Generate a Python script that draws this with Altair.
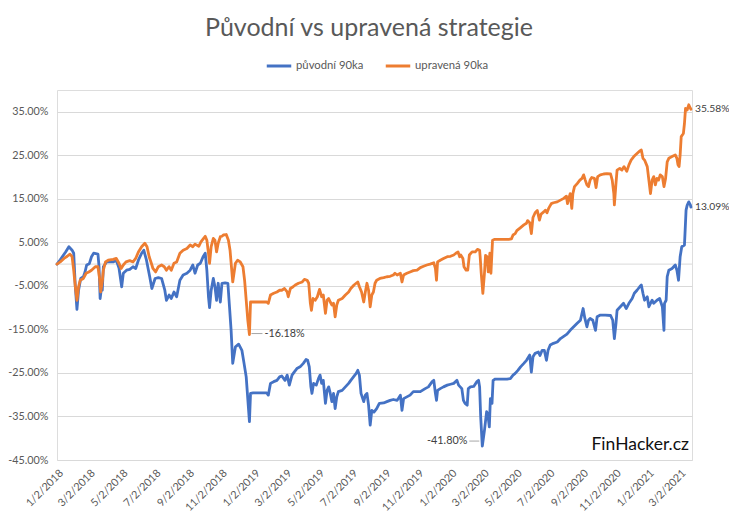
import altair as alt
import pandas as pd

TITLE = "Původní vs upravená strategie"
SERIES_NAMES = ["původní 90ka", "upravená 90ka"]
SERIES_COLORS = ["#4472C4", "#ED7D31"]
WATERMARK = "FinHacker.cz"

puvodni_dates = [
    "2018-01-02", "2018-01-08", "2018-01-18", "2018-01-24", "2018-01-30", "2018-02-02", "2018-02-05",
    "2018-02-08", "2018-02-11", "2018-02-15", "2018-02-20", "2018-02-23", "2018-02-26", "2018-03-03",
    "2018-03-07", "2018-03-11", "2018-03-19", "2018-03-21", "2018-03-23", "2018-03-26", "2018-03-27",
    "2018-03-29", "2018-04-04", "2018-04-16", "2018-04-22", "2018-04-27", "2018-05-02", "2018-05-05",
    "2018-05-11", "2018-05-17", "2018-05-23", "2018-05-28", "2018-06-02", "2018-06-08", "2018-06-12",
    "2018-06-17", "2018-06-23", "2018-06-27", "2018-07-03", "2018-07-09", "2018-07-15", "2018-07-21",
    "2018-07-24", "2018-07-29", "2018-08-02", "2018-08-07", "2018-08-12", "2018-08-18", "2018-08-24",
    "2018-08-31", "2018-09-06", "2018-09-11", "2018-09-15", "2018-09-20", "2018-09-25", "2018-09-30",
    "2018-10-04", "2018-10-07", "2018-10-10", "2018-10-12", "2018-10-15", "2018-10-19", "2018-10-22",
    "2018-10-25", "2018-10-28", "2018-11-01", "2018-11-04", "2018-11-10", "2018-11-15", "2018-11-18",
    "2018-11-21", "2018-11-24", "2018-11-29", "2018-12-05", "2018-12-11", "2018-12-15", "2018-12-19",
    "2018-12-23", "2018-12-25", "2018-12-27", "2019-01-01", "2019-01-20", "2019-01-26", "2019-01-29",
    "2019-02-02", "2019-02-08", "2019-02-14", "2019-02-19", "2019-02-23", "2019-03-01", "2019-03-05",
    "2019-03-09", "2019-03-14", "2019-03-18", "2019-03-23", "2019-03-29", "2019-04-04", "2019-04-09",
    "2019-04-12", "2019-04-15", "2019-04-18", "2019-04-20", "2019-04-23", "2019-04-28", "2019-05-02",
    "2019-05-05", "2019-05-08", "2019-05-11", "2019-05-15", "2019-05-18", "2019-05-21", "2019-05-24",
    "2019-05-27", "2019-05-30", "2019-06-02", "2019-06-05", "2019-06-08", "2019-06-15", "2019-06-21",
    "2019-06-27", "2019-07-01", "2019-07-06", "2019-07-11", "2019-07-14", "2019-07-17", "2019-07-20",
    "2019-07-25", "2019-07-28", "2019-07-31", "2019-08-03", "2019-08-06", "2019-08-09", "2019-08-13",
    "2019-08-18", "2019-08-23", "2019-08-31", "2019-09-06", "2019-09-12", "2019-09-18", "2019-09-25",
    "2019-10-01", "2019-10-04", "2019-10-07", "2019-10-13", "2019-10-19", "2019-10-25", "2019-11-01",
    "2019-11-07", "2019-11-16", "2019-11-22", "2019-11-29", "2019-12-02", "2019-12-05", "2019-12-07",
    "2019-12-09", "2019-12-14", "2019-12-20", "2019-12-27", "2020-01-02", "2020-01-08", "2020-01-14",
    "2020-01-17", "2020-01-20", "2020-01-23", "2020-01-26", "2020-01-29", "2020-02-02", "2020-02-04",
    "2020-02-08", "2020-02-14", "2020-02-20", "2020-02-23", "2020-02-25", "2020-02-27", "2020-03-01",
    "2020-03-05", "2020-03-09", "2020-03-11", "2020-03-14", "2020-03-16", "2020-03-19", "2020-03-21",
    "2020-03-25", "2020-04-03", "2020-04-16", "2020-04-22", "2020-04-27", "2020-05-01", "2020-05-06",
    "2020-05-11", "2020-05-17", "2020-05-22", "2020-05-24", "2020-05-28", "2020-05-31", "2020-06-03",
    "2020-06-07", "2020-06-13", "2020-06-16", "2020-06-20", "2020-06-24", "2020-06-28", "2020-07-01",
    "2020-07-05", "2020-07-11", "2020-07-18", "2020-07-24", "2020-08-05", "2020-08-11", "2020-08-24",
    "2020-08-30", "2020-09-04", "2020-09-07", "2020-09-11", "2020-09-14", "2020-09-17", "2020-09-22",
    "2020-09-27", "2020-09-30", "2020-10-06", "2020-10-15", "2020-10-25", "2020-10-29", "2020-11-01",
    "2020-11-04", "2020-11-06", "2020-11-12", "2020-11-18", "2020-11-23", "2020-11-28", "2020-12-04",
    "2020-12-08", "2020-12-13", "2020-12-18", "2020-12-21", "2020-12-24", "2020-12-27", "2021-01-01",
    "2021-01-04", "2021-01-07", "2021-01-10", "2021-01-13", "2021-01-19", "2021-01-24", "2021-01-29",
    "2021-02-01", "2021-02-02", "2021-02-05", "2021-02-07", "2021-02-10", "2021-02-16", "2021-02-22",
    "2021-02-25", "2021-02-28", "2021-03-03", "2021-03-06", "2021-03-11", "2021-03-12", "2021-03-14",
    "2021-03-16", "2021-03-19", "2021-03-22", "2021-03-23",
]
puvodni_values = [
    0.0, 1.0, 2.8, 4.0, 3.2, 2.5, -5.2,
    -10.4, -6.0, -3.3, -2.9, -1.8, -0.2, 0.1,
    1.7, 2.5, 2.3, -0.6, -7.9, -5.0, -6.0,
    -0.6, 0.5, 0.5, 0.9, -0.9, -5.2, -2.1,
    -1.4, -1.2, -0.6, -1.0, 0.9, 2.5, 3.2,
    0.9, -2.9, -5.6, -3.3, -3.1, -3.3, -6.0,
    -8.3, -7.1, -7.9, -6.4, -7.5, -3.7, -2.5,
    -2.1, -1.4, -0.2, -2.1, -0.2, 0.2, 1.7,
    2.5, -1.4, -7.5, -10.0, -6.0, -3.3, -5.2,
    -8.3, -4.4, -8.7, -4.4, -4.3, -4.4, -9.8,
    -15.2, -22.8, -19.0, -18.4, -19.8, -22.8, -25.9,
    -32.8, -36.2, -29.7, -29.6, -29.6, -29.6, -30.1,
    -27.4, -27.0, -26.7, -25.9, -25.7, -26.7, -25.5,
    -27.8, -25.5, -24.8, -24.0, -23.6, -22.8, -21.9,
    -22.1, -23.6, -28.2, -29.7, -27.4, -27.8, -26.3,
    -25.5, -27.4, -26.7, -32.0, -29.0, -28.2, -29.7,
    -31.6, -29.7, -33.2, -30.5, -29.3, -29.0, -28.2,
    -27.4, -26.7, -25.9, -25.1, -24.4, -25.5, -29.7,
    -31.6, -30.1, -29.7, -32.4, -37.0, -33.6, -34.0,
    -33.2, -32.0, -31.9, -31.6, -31.3, -31.1, -31.3,
    -30.1, -33.6, -30.9, -30.5, -30.1, -29.3, -29.3,
    -29.3, -28.6, -28.2, -27.0, -26.7, -29.7, -31.3,
    -29.0, -28.6, -28.2, -27.8, -27.6, -27.4, -26.7,
    -27.8, -28.2, -28.6, -31.3, -32.0, -32.4, -28.6,
    -28.2, -28.1, -27.0, -26.7, -28.2, -35.1, -41.8,
    -38.2, -33.9, -34.3, -37.4, -30.9, -32.0, -26.7,
    -26.4, -26.4, -26.4, -26.3, -25.5, -25.1, -24.4,
    -23.6, -22.8, -22.1, -21.7, -20.9, -24.8, -21.3,
    -20.5, -20.2, -21.0, -19.8, -19.8, -22.1, -19.8,
    -18.6, -18.2, -17.9, -17.1, -16.1, -15.2, -13.6,
    -12.9, -10.2, -12.3, -14.4, -12.9, -12.5, -12.9,
    -15.2, -12.1, -11.7, -11.7, -11.8, -12.9, -17.1,
    -13.6, -10.6, -9.8, -9.0, -10.2, -9.0, -7.9,
    -6.7, -6.0, -5.2, -4.8, -6.7, -8.3, -7.5,
    -9.8, -9.0, -8.3, -9.0, -8.3, -7.9, -9.8,
    -15.2, -9.0, -8.3, -2.9, -1.4, -1.0, -0.2,
    -1.4, -3.7, 1.7, 4.0, 4.4, 7.0, 12.4,
    13.5, 14.3, 13.6, 13.09,
]

upravena_dates = [
    "2018-01-02", "2018-01-08", "2018-01-15", "2018-01-21", "2018-01-26", "2018-01-30", "2018-02-02",
    "2018-02-05", "2018-02-08", "2018-02-11", "2018-02-14", "2018-02-20", "2018-02-25", "2018-03-02",
    "2018-03-07", "2018-03-14", "2018-03-19", "2018-03-22", "2018-03-24", "2018-03-27", "2018-03-29",
    "2018-04-02", "2018-04-07", "2018-04-16", "2018-04-22", "2018-04-27", "2018-05-01", "2018-05-05",
    "2018-05-10", "2018-05-17", "2018-05-23", "2018-05-28", "2018-06-02", "2018-06-08", "2018-06-14",
    "2018-06-18", "2018-06-22", "2018-06-26", "2018-06-29", "2018-07-04", "2018-07-09", "2018-07-15",
    "2018-07-20", "2018-07-24", "2018-07-29", "2018-08-02", "2018-08-07", "2018-08-12", "2018-08-18",
    "2018-08-24", "2018-08-31", "2018-09-06", "2018-09-11", "2018-09-15", "2018-09-22", "2018-09-26",
    "2018-10-01", "2018-10-04", "2018-10-07", "2018-10-10", "2018-10-12", "2018-10-15", "2018-10-19",
    "2018-10-22", "2018-10-25", "2018-10-28", "2018-11-01", "2018-11-04", "2018-11-07", "2018-11-12",
    "2018-11-16", "2018-11-19", "2018-11-24", "2018-11-29", "2018-12-03", "2018-12-08", "2018-12-13",
    "2018-12-16", "2018-12-19", "2018-12-22", "2018-12-25", "2018-12-27", "2019-01-01", "2019-01-20",
    "2019-01-26", "2019-01-29", "2019-02-02", "2019-02-08", "2019-02-14", "2019-02-19", "2019-02-23",
    "2019-02-28", "2019-03-05", "2019-03-07", "2019-03-11", "2019-03-16", "2019-03-20", "2019-03-26",
    "2019-04-02", "2019-04-06", "2019-04-11", "2019-04-14", "2019-04-17", "2019-04-19", "2019-04-22",
    "2019-04-26", "2019-04-30", "2019-05-04", "2019-05-08", "2019-05-11", "2019-05-15", "2019-05-18",
    "2019-05-21", "2019-05-24", "2019-05-27", "2019-05-30", "2019-06-02", "2019-06-05", "2019-06-08",
    "2019-06-15", "2019-06-21", "2019-06-27", "2019-07-01", "2019-07-07", "2019-07-11", "2019-07-14",
    "2019-07-17", "2019-07-21", "2019-07-25", "2019-07-28", "2019-07-31", "2019-08-03", "2019-08-06",
    "2019-08-09", "2019-08-12", "2019-08-15", "2019-08-18", "2019-08-24", "2019-08-31", "2019-09-06",
    "2019-09-12", "2019-09-18", "2019-09-21", "2019-09-25", "2019-10-01", "2019-10-04", "2019-10-07",
    "2019-10-13", "2019-10-19", "2019-10-25", "2019-11-01", "2019-11-07", "2019-11-13", "2019-11-19",
    "2019-11-25", "2019-12-02", "2019-12-05", "2019-12-07", "2019-12-09", "2019-12-14", "2019-12-20",
    "2019-12-27", "2020-01-02", "2020-01-08", "2020-01-12", "2020-01-16", "2020-01-19", "2020-01-21",
    "2020-01-25", "2020-01-27", "2020-01-31", "2020-02-03", "2020-02-06", "2020-02-11", "2020-02-17",
    "2020-02-21", "2020-02-25", "2020-02-26", "2020-02-28", "2020-03-02", "2020-03-05", "2020-03-07",
    "2020-03-10", "2020-03-12", "2020-03-15", "2020-03-17", "2020-03-20", "2020-03-24", "2020-04-01",
    "2020-04-10", "2020-04-19", "2020-04-24", "2020-04-27", "2020-05-01", "2020-05-04", "2020-05-11",
    "2020-05-17", "2020-05-22", "2020-05-24", "2020-05-28", "2020-05-31", "2020-06-03", "2020-06-07",
    "2020-06-11", "2020-06-15", "2020-06-18", "2020-06-23", "2020-06-26", "2020-06-29", "2020-07-02",
    "2020-07-07", "2020-07-11", "2020-07-18", "2020-07-24", "2020-07-30", "2020-08-04", "2020-08-06",
    "2020-08-09", "2020-08-11", "2020-08-14", "2020-08-16", "2020-08-19", "2020-08-24", "2020-08-29",
    "2020-09-02", "2020-09-05", "2020-09-08", "2020-09-11", "2020-09-14", "2020-09-17", "2020-09-20",
    "2020-09-25", "2020-09-28", "2020-10-01", "2020-10-06", "2020-10-12", "2020-10-18", "2020-10-25",
    "2020-10-28", "2020-10-31", "2020-11-01", "2020-11-04", "2020-11-06", "2020-11-11", "2020-11-15",
    "2020-11-19", "2020-11-24", "2020-11-28", "2020-12-02", "2020-12-07", "2020-12-13", "2020-12-18",
    "2020-12-21", "2020-12-24", "2020-12-27", "2021-01-01", "2021-01-04", "2021-01-07", "2021-01-10",
    "2021-01-13", "2021-01-16", "2021-01-19", "2021-01-22", "2021-01-25", "2021-01-29", "2021-02-01",
    "2021-02-04", "2021-02-07", "2021-02-10", "2021-02-16", "2021-02-22", "2021-02-25", "2021-02-27",
    "2021-03-01", "2021-03-03", "2021-03-05", "2021-03-09", "2021-03-11", "2021-03-13", "2021-03-16",
    "2021-03-19", "2021-03-22", "2021-03-23",
]
upravena_values = [
    0.0, 0.5, 1.3, 1.8, 2.3, 1.7, -1.4,
    -5.2, -8.3, -5.2, -3.7, -3.3, -2.1, -1.8,
    -1.4, -0.6, -0.6, -3.3, -6.4, -4.0, -1.4,
    0.5, 0.9, 1.1, 1.3, 0.2, -1.0, -0.2,
    0.5, 0.8, 0.5, 1.3, 2.8, 4.0, 4.8,
    4.0, 1.7, 0.2, -1.0, -1.8, -0.6, -0.2,
    -0.6, -1.4, -0.6, -1.4, 0.2, 0.5, 2.5,
    3.2, 3.6, 4.4, 4.0, 4.6, 4.1, 5.1,
    5.9, 6.4, 5.5, 2.5, 0.2, 4.0, 5.9,
    5.5, 2.8, 4.8, 6.3, 6.4, 6.7, 6.8,
    5.5, 3.2, -4.1, 0.2, 0.9, 0.5, -0.6,
    -3.7, -8.3, -12.9, -16.18, -8.7, -8.7, -8.7,
    -8.7, -9.0, -7.1, -6.7, -6.4, -6.0, -6.0,
    -5.6, -6.4, -7.5, -5.6, -5.2, -4.8, -4.4,
    -4.1, -3.5, -3.7, -4.4, -9.0, -10.6, -7.9,
    -8.3, -7.5, -5.8, -7.5, -7.1, -11.3, -8.3,
    -7.9, -8.7, -9.4, -9.0, -12.1, -9.4, -8.3,
    -7.9, -7.1, -6.4, -5.6, -4.8, -4.4, -4.1,
    -5.2, -6.4, -8.7, -6.4, -4.4, -6.0, -9.8,
    -7.1, -6.4, -4.4, -3.7, -3.3, -3.1, -2.9,
    -2.8, -2.5, -2.1, -2.5, -2.1, -4.1, -2.5,
    -2.1, -1.8, -1.5, -1.4, -0.8, -0.5, -0.2,
    0.0, 0.3, -1.0, -3.7, 0.5, 0.9, 1.3,
    1.7, 1.8, 2.1, 2.5, 2.8, 1.7, 2.1,
    1.3, -0.6, -1.4, -1.4, 2.1, 2.8, 2.8,
    3.4, 3.2, 1.7, -2.1, -6.7, -2.1, 2.0,
    1.7, -1.8, 2.5, -2.1, 5.5, 5.7, 5.7,
    5.7, 5.7, 5.8, 6.7, 7.0, 7.7, 8.4,
    9.0, 9.4, 10.0, 9.5, 7.0, 10.7, 11.8,
    12.3, 10.1, 11.5, 12.0, 12.4, 11.8, 12.8,
    13.9, 14.1, 14.3, 14.7, 15.1, 15.6, 13.9,
    15.3, 16.2, 12.8, 16.2, 17.8, 18.5, 19.3,
    19.7, 20.5, 19.3, 18.2, 17.8, 19.3, 19.9,
    19.7, 17.6, 20.1, 20.5, 20.7, 20.8, 20.7,
    19.3, 16.2, 13.6, 18.6, 21.6, 22.0, 21.6,
    22.4, 21.3, 22.8, 23.9, 24.7, 25.4, 26.0,
    26.2, 24.3, 23.9, 22.4, 19.3, 16.2, 19.3,
    20.1, 18.2, 19.7, 19.3, 20.5, 20.1, 17.8,
    19.7, 23.5, 24.3, 24.7, 25.1, 24.3, 22.8,
    22.4, 25.1, 29.3, 30.0, 32.3, 35.8, 35.4,
    36.6, 35.8, 35.58,
]

Y_TICKS = [-45, -35, -25, -15, -5, 5, 15, 25, 35]
Y_DOMAIN = [-45, 40]
X_TICK_LABELS = [
    "1/2/2018", "3/2/2018", "5/2/2018", "7/2/2018", "9/2/2018", "11/2/2018",
    "1/2/2019", "3/2/2019", "5/2/2019", "7/2/2019", "9/2/2019", "11/2/2019",
    "1/2/2020", "3/2/2020", "5/2/2020", "7/2/2020", "9/2/2020", "11/2/2020",
    "1/2/2021", "3/2/2021",
]
X_DOMAIN = ["1/2/2018", "3/25/2021"]


def to_dt(s):
    m, d, y = (int(p) for p in s.split("/"))
    return alt.DateTime(year=y, month=m, date=d, utc=True)


FONT = "Lato"
GREY = "#595959"
AXIS_FS = 10.8

blue = pd.DataFrame({"date": puvodni_dates, "value": puvodni_values, "series": SERIES_NAMES[0]})
orange = pd.DataFrame({"date": upravena_dates, "value": upravena_values, "series": SERIES_NAMES[1]})

x_axis = alt.Axis(
    values=[to_dt(s) for s in X_TICK_LABELS],
    labelExpr="utcFormat(datum.value, '%-m/%-d/%Y')",
    labelAngle=-45,
    labelAlign="right",
    labelBaseline="top",
    labelPadding=7,
    labelFont=FONT,
    labelFontSize=AXIS_FS,
    labelColor=GREY,
    labelOverlap=False,
    labelFlush=False,
    grid=False,
    domain=False,
    ticks=False,
    title=None,
)
y_axis = alt.Axis(
    values=Y_TICKS,
    labelExpr="(datum.value < 0 ? '-' : '') + format(abs(datum.value), '.2f') + '%'",
    labelPadding=9,
    labelFont=FONT,
    labelFontSize=AXIS_FS,
    labelColor=GREY,
    labelOverlap=False,
    grid=True,
    gridColor="#D9D9D9",
    gridWidth=1,
    domain=False,
    ticks=False,
    title=None,
)
x_scale = alt.Scale(type="utc", domain=[to_dt(s) for s in X_DOMAIN])
y_scale = alt.Scale(domain=Y_DOMAIN, nice=False, zero=False)


def xe():
    return alt.X("date:T", scale=x_scale, axis=x_axis)


def ye():
    return alt.Y("value:Q", scale=y_scale, axis=y_axis)


color_enc = alt.Color(
    "series:N",
    scale=alt.Scale(domain=SERIES_NAMES, range=SERIES_COLORS),
    legend=alt.Legend(
        orient="none",
        legendX=208,
        legendY=-38,
        direction="horizontal",
        title=None,
        symbolType="stroke",
        symbolSize=600,
        symbolStrokeWidth=3,
        labelFont=FONT,
        labelFontSize=11.3,
        labelColor=GREY,
        labelOffset=3,
        columnPadding=15,
    ),
)

line_style = dict(strokeWidth=2.8, strokeJoin="round", strokeCap="round")
blue_line = alt.Chart(blue).mark_line(**line_style).encode(x=xe(), y=ye(), color=color_enc)
orange_line = alt.Chart(orange).mark_line(**line_style).encode(x=xe(), y=ye(), color=color_enc)

zero_rule = alt.Chart(pd.DataFrame({"value": [0]})).mark_rule(color="#D9D9D9", strokeWidth=1).encode(y=ye())

ends = pd.DataFrame({
    "date": [puvodni_dates[-1], upravena_dates[-1]],
    "value": [puvodni_values[-1], upravena_values[-1]],
})
ends["label"] = ends["value"].map(lambda v: f"{v:.2f}%")

i_o = upravena_values.index(min(upravena_values))
i_b = puvodni_values.index(min(puvodni_values))
min_o = pd.DataFrame({"date": [upravena_dates[i_o]], "value": [upravena_values[i_o]]})
min_o["label"] = min_o["value"].map(lambda v: f"{v:.2f}%")
min_b = pd.DataFrame({"date": [puvodni_dates[i_b]], "value": [puvodni_values[i_b]]})
min_b["label"] = min_b["value"].map(lambda v: f"{v:.2f}%")

lbl_style = dict(font=FONT, fontSize=10.8, color="#404040", baseline="middle")
end_labels = alt.Chart(ends).mark_text(
    align="left", dx=4, font=FONT, fontSize=10.3, color="#404040", baseline="middle"
).encode(x=xe(), y=ye(), text="label:N")
min_o_label = alt.Chart(min_o).mark_text(align="left", dx=15, dy=-1, **lbl_style).encode(
    x=xe(), y=ye(), text="label:N")
min_b_label = alt.Chart(min_b).mark_text(align="right", dx=-15, dy=-5, **lbl_style).encode(
    x=xe(), y=ye(), text="label:N")
min_o_leader = alt.Chart(min_o).mark_rule(
    color="#A6A6A6", strokeWidth=1, xOffset=2, x2Offset=13, yOffset=-1, y2Offset=-1
).encode(x=xe(), x2="date", y=ye(), y2="value")
min_b_leader = alt.Chart(min_b).mark_rule(
    color="#A6A6A6", strokeWidth=1, xOffset=-13, x2Offset=-3, yOffset=-5, y2Offset=-5
).encode(x=xe(), x2="date", y=ye(), y2="value")

watermark = alt.Chart(pd.DataFrame({"t": [WATERMARK]})).mark_text(
    font=FONT, fontSize=17.5, color="#111111", align="right", baseline="alphabetic"
).encode(x=alt.value(632), y=alt.value(360), text="t:N")

title_text = alt.Chart(pd.DataFrame({"t": [TITLE]})).mark_text(
    font=FONT, fontSize=25, color=GREY, align="center", baseline="alphabetic"
).encode(x=alt.value(312), y=alt.value(-54), text="t:N")

chart = alt.layer(
    zero_rule, blue_line, orange_line,
    min_o_leader, min_b_leader, end_labels, min_o_label, min_b_label, watermark, title_text,
).properties(
    width=635,
    height=370,
    padding={"left": 49, "top": 82, "right": 37, "bottom": 61},
    autosize=alt.AutoSizeParams(type="none"),
).configure_view(stroke=None).configure_axis(labelOverlap=False).configure(background="white")

chart.save("out.html", embed_options={"renderer": "svg", "actions": False})
